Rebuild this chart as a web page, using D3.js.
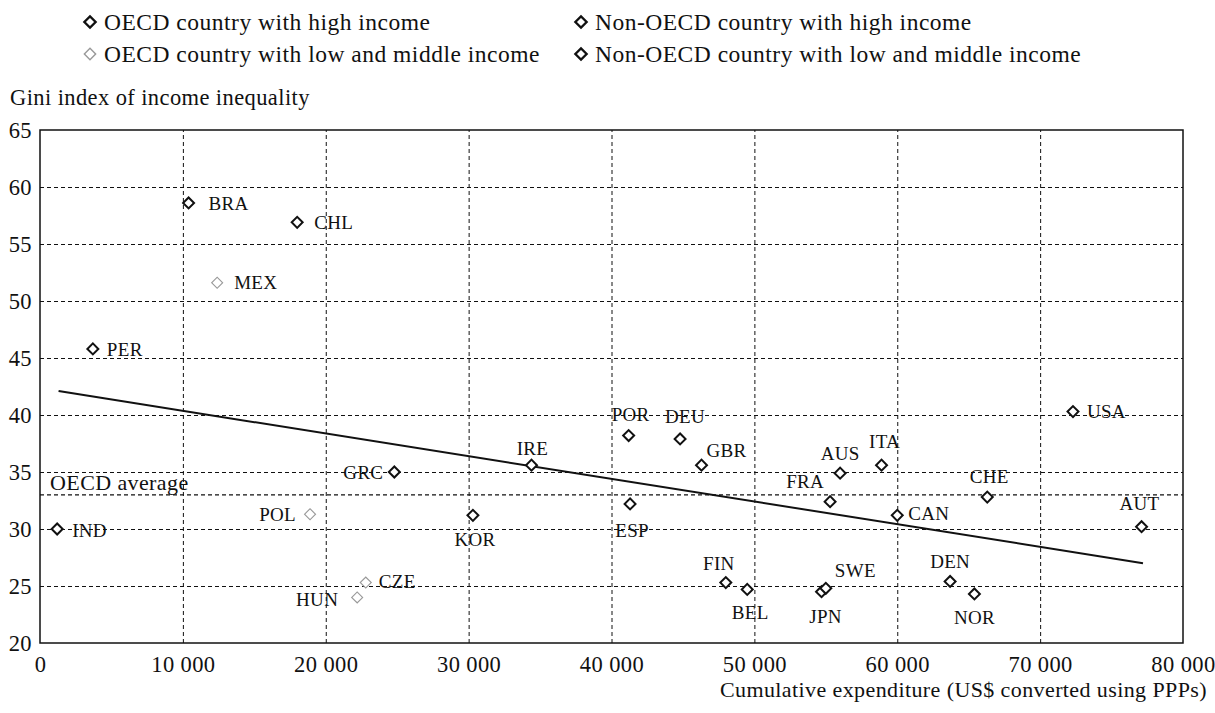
<!DOCTYPE html>
<html><head><meta charset="utf-8">
<script src="https://cdn.jsdelivr.net/npm/d3@7"></script>
<style>body{margin:0;background:#fff;} text{font-family:"Liberation Serif","DejaVu Serif",serif;fill:#111;}</style>
</head><body>
<svg id="chart" width="1215" height="713"></svg>
<script>
// ---------- data ----------
const countries = ["BRA","CHL","MEX","PER","IND","GRC","POL","CZE","HUN","KOR","IRE","POR","DEU","GBR","ESP","FIN","BEL","JPN","SWE","FRA","AUS","ITA","CAN","CHE","DEN","NOR","USA","AUT"];
const expenditure = [10400,18000,12400,3700,1200,24800,18900,22800,22200,30300,34400,41200,44800,46300,41300,48000,49500,54700,55000,55300,56000,58900,60000,66300,63700,65400,72300,77100];
const gini = [58.6,56.9,51.6,45.8,30.0,35.0,31.3,25.3,24.0,31.2,35.6,38.2,37.9,35.6,32.2,25.3,24.7,24.5,24.8,32.4,34.9,35.6,31.2,32.8,25.4,24.3,40.3,30.2];
const group = ["nonOECDlow","OECDhigh","OECDlow","nonOECDlow","nonOECDlow","OECDhigh","OECDlow","OECDlow","OECDlow","OECDhigh","OECDhigh","OECDhigh","OECDhigh","OECDhigh","OECDhigh","OECDhigh","OECDhigh","OECDhigh","OECDhigh","OECDhigh","OECDhigh","OECDhigh","OECDhigh","OECDhigh","OECDhigh","OECDhigh","OECDhigh","OECDhigh"];
const trendX = [1300, 77200];
const trendY = [42.1, 27.0];
const oecdAverage = 33.0;
const xTicks = [0,10000,20000,30000,40000,50000,60000,70000,80000];
const yTicks = [20,25,30,35,40,45,50,55,60,65];
const legendLabels = ["OECD country with high income","Non-OECD country with high income","OECD country with low and middle income","Non-OECD country with low and middle income"];
const legendGroups = ["OECDhigh","nonOECDhigh","OECDlow","nonOECDlow"];

// ---------- layout (label placement, not data) ----------
const labelPos = {
  BRA:{dx:20,dy:0,a:"start"}, CHL:{dx:17,dy:0,a:"start"}, MEX:{dx:17,dy:0,a:"start"},
  PER:{dx:14,dy:0,a:"start"}, IND:{dx:15,dy:1,a:"start"}, GRC:{dx:-11,dy:0,a:"end"},
  POL:{dx:-14,dy:0,a:"end"}, CZE:{dx:13,dy:-1,a:"start"}, HUN:{dx:-19,dy:2,a:"end"},
  KOR:{dx:2,dy:24,a:"middle"}, IRE:{dx:1,dy:-17,a:"middle"}, POR:{dx:2,dy:-21,a:"middle"},
  DEU:{dx:5,dy:-23,a:"middle"}, GBR:{dx:5,dy:-15,a:"start"}, ESP:{dx:2,dy:26,a:"middle"},
  FIN:{dx:-7,dy:-19,a:"middle"}, BEL:{dx:3,dy:23,a:"middle"}, JPN:{dx:4,dy:25,a:"middle"},
  SWE:{dx:9,dy:-18,a:"start"}, FRA:{dx:-6,dy:-20,a:"end"}, AUS:{dx:0,dy:-20,a:"middle"},
  ITA:{dx:3,dy:-24,a:"middle"}, CAN:{dx:11,dy:-2,a:"start"}, CHE:{dx:2,dy:-21,a:"middle"},
  DEN:{dx:0,dy:-20,a:"middle"}, NOR:{dx:0,dy:23,a:"middle"}, USA:{dx:14,dy:0,a:"start"},
  AUT:{dx:-2,dy:-23,a:"middle"}
};

const svg = d3.select("#chart");
const m = {left:40, right:1183, top:130, bottom:643};
const x = d3.scaleLinear().domain([0,80000]).range([m.left, m.right]);
const y = d3.scaleLinear().domain([20,65]).range([m.bottom, m.top]);
const fmtX = v => v===0 ? "0" : (v/1000)+" 000";
const FS = "22px", LS = "0.4px";

const styleOf = g => g==="OECDlow" ? {stroke:"#999", width:1.1} : {stroke:"#111", width:2};

// grid
const gx = svg.append("g").attr("transform",`translate(0,${m.bottom})`)
  .call(d3.axisBottom(x).tickValues(xTicks).tickSize(-(m.bottom-m.top)).tickFormat(fmtX).tickPadding(10));
gx.select(".domain").remove();
gx.selectAll(".tick line").attr("stroke","#111").attr("stroke-dasharray","4,3")
  .filter(d => d===0 || d===80000).remove();
gx.selectAll(".tick text").style("font-size","22.5px").style("letter-spacing",LS).attr("fill","#111")
  .attr("dy","0.85em");

const gy = svg.append("g").attr("transform",`translate(${m.left},0)`)
  .call(d3.axisLeft(y).tickValues(yTicks).tickSize(-(m.right-m.left)).tickPadding(10));
gy.select(".domain").remove();
gy.selectAll(".tick line").attr("stroke","#111").attr("stroke-dasharray","4,3")
  .filter(d => d===20 || d===65).remove();
gy.selectAll(".tick text").style("font-size","22.5px").style("letter-spacing",LS).attr("fill","#111").attr("x",-8);

// OECD average line
svg.append("line").attr("x1",x(0)).attr("x2",x(80000)).attr("y1",y(oecdAverage)).attr("y2",y(oecdAverage))
  .attr("stroke","#111").attr("stroke-width",1.3).attr("stroke-dasharray","4,3");
svg.append("text").attr("x",x(0)+10).attr("y",y(oecdAverage)-5).style("font-size",FS).style("letter-spacing",LS).text("OECD average");

// frame
svg.append("rect").attr("x",m.left).attr("y",m.top).attr("width",m.right-m.left).attr("height",m.bottom-m.top)
  .attr("fill","none").attr("stroke","#111").attr("stroke-width",1.5);

// trend line
svg.append("path").datum(trendX.map((v,i)=>[v,trendY[i]]))
  .attr("d", d3.line().x(d=>x(d[0])).y(d=>y(d[1])))
  .attr("stroke","#111").attr("stroke-width",2).attr("fill","none");

// points
const diamond = d3.symbol().type(d3.symbolSquare).size(60);
const pts = countries.map((c,i)=>({c, x:expenditure[i], y:gini[i], g:group[i]}));
svg.append("g").selectAll("path").data(pts).join("path")
  .attr("d", diamond)
  .attr("transform", d=>`translate(${x(d.x)},${y(d.y)}) rotate(45)`)
  .attr("fill","#fff")
  .attr("stroke", d=>styleOf(d.g).stroke)
  .attr("stroke-width", d=>styleOf(d.g).width);

svg.append("g").selectAll("text").data(pts).join("text")
  .attr("x", d=>x(d.x)+labelPos[d.c].dx)
  .attr("y", d=>y(d.y)+labelPos[d.c].dy)
  .attr("dy","0.35em")
  .attr("text-anchor", d=>labelPos[d.c].a)
  .style("font-size","19px").style("letter-spacing","0.3px")
  .text(d=>d.c);

// axis titles
svg.append("text").attr("x",10).attr("y",105).style("font-size","22.5px").style("letter-spacing",LS).text("Gini index of income inequality");
svg.append("text").attr("x",1207).attr("y",697).attr("text-anchor","end").style("font-size",FS).style("letter-spacing",LS)
  .text("Cumulative expenditure (US$ converted using PPPs)");

// legend
const legPos = [[90,22],[581,22],[90,54],[581,54]];
const leg = svg.append("g");
legendLabels.forEach((lab,i)=>{
  const [lx,ly] = legPos[i];
  const st = styleOf(legendGroups[i]);
  leg.append("path").attr("d", d3.symbol().type(d3.symbolSquare).size(64))
    .attr("transform",`translate(${lx},${ly}) rotate(45)`)
    .attr("fill","#fff").attr("stroke",st.stroke).attr("stroke-width",st.width+0.3);
  leg.append("text").attr("x",lx+14).attr("y",ly+8).style("font-size","23.5px").style("letter-spacing","0.5px").text(lab);
});
</script>
</body></html>
